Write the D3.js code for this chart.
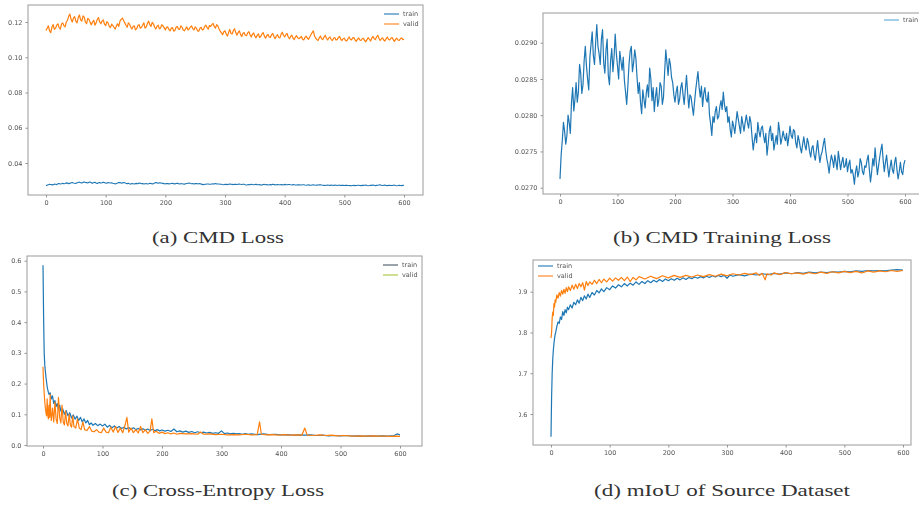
<!DOCTYPE html>
<html>
<head>
<meta charset="utf-8">
<script src="https://cdn.jsdelivr.net/npm/d3@7"></script>
<style>
  html, body { margin: 0; padding: 0; background: #fff; }
  svg { display: block; }
  .cap { font-family: "Liberation Serif", "Times New Roman", serif; font-size: 16px; }
  .tk { font-family: "DejaVu Sans", sans-serif; font-size: 6.5px; }
</style>
</head>
<body>
<svg id="fig" width="919" height="506"></svg>
<script>
// ---- data ----------------------------------------------------------
// CMD training loss, sampled every 2 epochs (0..600)
const cmdTrain = [
  0.02712,0.02745,0.02765,0.02790,0.02778,0.02760,0.02772,0.02800,0.02790,0.02775,
  0.02818,0.02838,0.02806,0.02822,0.02845,0.02818,0.02832,0.02870,0.02858,0.02830,
  0.02842,0.02875,0.02895,0.02868,0.02850,0.02835,0.02880,0.02898,0.02915,0.02882,
  0.02870,0.02900,0.02925,0.02895,0.02885,0.02870,0.02905,0.02918,0.02872,0.02858,
  0.02890,0.02905,0.02855,0.02842,0.02875,0.02892,0.02860,0.02880,0.02912,0.02885,
  0.02868,0.02850,0.02888,0.02875,0.02862,0.02880,0.02848,0.02832,0.02815,0.02840,
  0.02870,0.02888,0.02895,0.02860,0.02872,0.02890,0.02878,0.02852,0.02830,0.02845,
  0.02818,0.02802,0.02835,0.02822,0.02810,0.02830,0.02842,0.02825,0.02865,0.02850,
  0.02820,0.02838,0.02805,0.02825,0.02838,0.02812,0.02822,0.02845,0.02840,0.02815,
  0.02825,0.02860,0.02890,0.02872,0.02855,0.02878,0.02870,0.02852,0.02845,0.02828,
  0.02818,0.02832,0.02840,0.02815,0.02822,0.02838,0.02845,0.02828,0.02815,0.02835,
  0.02855,0.02830,0.02810,0.02828,0.02825,0.02812,0.02800,0.02818,0.02835,0.02848,
  0.02860,0.02838,0.02825,0.02840,0.02812,0.02830,0.02838,0.02822,0.02818,0.02832,
  0.02800,0.02788,0.02772,0.02798,0.02790,0.02805,0.02812,0.02795,0.02798,0.02812,
  0.02820,0.02808,0.02832,0.02815,0.02805,0.02812,0.02790,0.02798,0.02780,0.02770,
  0.02792,0.02785,0.02775,0.02790,0.02805,0.02795,0.02785,0.02775,0.02798,0.02788,
  0.02778,0.02790,0.02800,0.02790,0.02782,0.02798,0.02790,0.02770,0.02752,0.02765,
  0.02775,0.02762,0.02790,0.02778,0.02770,0.02782,0.02785,0.02772,0.02762,0.02775,
  0.02745,0.02760,0.02778,0.02785,0.02765,0.02775,0.02752,0.02762,0.02772,0.02760,
  0.02790,0.02778,0.02760,0.02768,0.02778,0.02770,0.02765,0.02775,0.02758,0.02770,
  0.02785,0.02772,0.02768,0.02780,0.02778,0.02762,0.02755,0.02772,0.02765,0.02755,
  0.02748,0.02760,0.02770,0.02758,0.02752,0.02768,0.02762,0.02750,0.02742,0.02755,
  0.02758,0.02745,0.02738,0.02752,0.02765,0.02748,0.02735,0.02745,0.02750,0.02760,
  0.02768,0.02752,0.02740,0.02732,0.02720,0.02735,0.02745,0.02738,0.02728,0.02745,
  0.02735,0.02725,0.02750,0.02738,0.02725,0.02735,0.02742,0.02728,0.02730,0.02740,
  0.02722,0.02732,0.02738,0.02720,0.02725,0.02718,0.02705,0.02722,0.02730,0.02715,
  0.02722,0.02740,0.02735,0.02722,0.02718,0.02730,0.02728,0.02738,0.02745,0.02725,
  0.02708,0.02722,0.02740,0.02730,0.02755,0.02735,0.02718,0.02730,0.02742,0.02752,
  0.02760,0.02738,0.02722,0.02735,0.02745,0.02728,0.02715,0.02728,0.02738,0.02725,
  0.02720,0.02735,0.02742,0.02725,0.02712,0.02722,0.02735,0.02722,0.02718,0.02732,
  0.02738
];

// CMD validation loss, sampled every 2 epochs (0..600)
const cmdValid = [
  0.1152,0.1165,0.1178,0.1150,0.1140,0.1172,0.1185,0.1158,0.1165,0.1182,
  0.1190,0.1168,0.1160,0.1188,0.1195,0.1180,0.1172,0.1200,0.1210,0.1232,
  0.1245,0.1215,0.1200,0.1222,0.1230,0.1205,0.1195,0.1225,0.1240,0.1212,
  0.1205,0.1235,0.1228,0.1200,0.1190,0.1220,0.1215,0.1198,0.1185,0.1200,
  0.1210,0.1182,0.1195,0.1215,0.1225,0.1200,0.1190,0.1205,0.1212,0.1188,
  0.1180,0.1202,0.1195,0.1175,0.1168,0.1188,0.1180,0.1170,0.1160,0.1178,
  0.1190,0.1175,0.1205,0.1215,0.1222,0.1208,0.1195,0.1182,0.1170,0.1195,
  0.1188,0.1172,0.1160,0.1175,0.1178,0.1155,0.1162,0.1180,0.1185,0.1165,
  0.1170,0.1182,0.1195,0.1165,0.1172,0.1192,0.1205,0.1185,0.1175,0.1198,
  0.1190,0.1172,0.1160,0.1175,0.1182,0.1162,0.1165,0.1185,0.1178,0.1168,
  0.1155,0.1170,0.1172,0.1158,0.1150,0.1165,0.1168,0.1148,0.1152,0.1170,
  0.1175,0.1160,0.1158,0.1178,0.1170,0.1155,0.1150,0.1162,0.1172,0.1155,
  0.1160,0.1172,0.1178,0.1162,0.1155,0.1172,0.1165,0.1150,0.1148,0.1165,
  0.1170,0.1155,0.1158,0.1175,0.1182,0.1168,0.1160,0.1180,0.1175,0.1185,
  0.1192,0.1175,0.1165,0.1185,0.1178,0.1160,0.1148,0.1138,0.1128,0.1145,
  0.1150,0.1132,0.1120,0.1140,0.1158,0.1135,0.1132,0.1150,0.1162,0.1140,
  0.1125,0.1140,0.1150,0.1130,0.1118,0.1135,0.1140,0.1125,0.1122,0.1138,
  0.1145,0.1128,0.1115,0.1130,0.1138,0.1120,0.1110,0.1125,0.1132,0.1112,
  0.1118,0.1132,0.1140,0.1120,0.1108,0.1122,0.1130,0.1115,0.1112,0.1128,
  0.1135,0.1118,0.1105,0.1120,0.1128,0.1112,0.1110,0.1130,0.1142,0.1125,
  0.1115,0.1128,0.1135,0.1115,0.1105,0.1118,0.1125,0.1108,0.1100,0.1115,
  0.1122,0.1110,0.1105,0.1112,0.1118,0.1102,0.1098,0.1112,0.1120,0.1108,
  0.1102,0.1115,0.1128,0.1140,0.1150,0.1122,0.1108,0.1100,0.1095,0.1110,
  0.1120,0.1105,0.1100,0.1115,0.1125,0.1108,0.1098,0.1110,0.1115,0.1100,
  0.1095,0.1108,0.1112,0.1098,0.1100,0.1112,0.1118,0.1102,0.1095,0.1105,
  0.1108,0.1095,0.1092,0.1105,0.1115,0.1102,0.1098,0.1110,0.1112,0.1098,
  0.1090,0.1102,0.1110,0.1098,0.1095,0.1105,0.1108,0.1095,0.1088,0.1100,
  0.1112,0.1102,0.1092,0.1108,0.1118,0.1105,0.1100,0.1115,0.1125,0.1108,
  0.1095,0.1105,0.1110,0.1098,0.1092,0.1105,0.1115,0.1102,0.1098,0.1108,
  0.1112,0.1100,0.1090,0.1102,0.1108,0.1098,0.1095,0.1105,0.1110,0.1100,
  0.1102
];

// Cross-entropy loss, [epoch, value]
const ceTrain = [
  [0,0.585],[1,0.42],[2,0.30],[3,0.26],[4,0.24],[5,0.22],[6,0.205],[7,0.19],[8,0.18],[9,0.172],
  [10,0.165],[12,0.17],[14,0.15],[16,0.16],[18,0.135],[20,0.145],[22,0.125],[24,0.135],[26,0.115],[28,0.13],
  [30,0.11],[33,0.118],[36,0.10],[39,0.112],[42,0.095],[45,0.105],[48,0.088],[51,0.098],[54,0.084],[57,0.094],
  [60,0.08],[63,0.09],[66,0.075],[69,0.085],[72,0.072],[75,0.08],[78,0.066],[81,0.072],[84,0.064],[88,0.07],
  [92,0.063],[96,0.068],[100,0.062],[104,0.068],[108,0.058],[112,0.064],[116,0.056],[120,0.062],[124,0.055],[128,0.06],
  [132,0.054],[136,0.058],[140,0.052],[144,0.057],[148,0.051],[152,0.056],[156,0.05],[160,0.054],[164,0.049],[168,0.053],
  [172,0.048],[176,0.052],[180,0.047],[184,0.051],[188,0.046],[192,0.05],[196,0.046],[200,0.049],[205,0.045],[210,0.048],
  [215,0.044],[220,0.052],[225,0.043],[230,0.046],[235,0.042],[240,0.045],[245,0.041],[250,0.044],[255,0.04],[260,0.043],
  [265,0.04],[270,0.042],[275,0.039],[280,0.041],[285,0.038],[290,0.04],[295,0.038],[300,0.046],[305,0.037],[310,0.039],
  [315,0.036],[320,0.038],[325,0.036],[330,0.037],[335,0.035],[340,0.037],[345,0.035],[350,0.036],[360,0.034],[370,0.036],
  [380,0.034],[390,0.035],[400,0.033],[410,0.034],[420,0.032],[430,0.033],[440,0.032],[450,0.033],[460,0.031],[470,0.032],
  [480,0.03],[490,0.031],[500,0.03],[510,0.031],[520,0.029],[530,0.03],[540,0.029],[550,0.03],[560,0.029],[570,0.03],
  [580,0.029],[590,0.031],[595,0.036],[600,0.033]
];
const ceValid = [
  [0,0.255],[1,0.20],[2,0.17],[3,0.14],[4,0.12],[5,0.105],[6,0.095],[7,0.15],[8,0.10],[9,0.085],
  [10,0.13],[11,0.09],[12,0.165],[13,0.10],[14,0.08],[16,0.12],[18,0.075],[20,0.14],[22,0.085],[24,0.07],
  [26,0.155],[28,0.09],[30,0.072],[32,0.13],[34,0.075],[36,0.065],[38,0.11],[40,0.07],[42,0.062],[44,0.10],
  [46,0.065],[48,0.058],[50,0.095],[52,0.06],[55,0.055],[58,0.085],[61,0.055],[64,0.05],[67,0.075],[70,0.05],
  [74,0.047],[78,0.06],[82,0.045],[86,0.043],[90,0.05],[94,0.042],[98,0.04],[102,0.055],[106,0.042],[110,0.04],
  [114,0.058],[118,0.042],[122,0.06],[126,0.041],[130,0.055],[134,0.04],[138,0.065],[141,0.09],[144,0.042],[148,0.055],
  [152,0.04],[156,0.05],[160,0.039],[164,0.06],[168,0.04],[172,0.05],[176,0.038],[180,0.045],[183,0.085],[186,0.04],
  [190,0.045],[195,0.038],[200,0.042],[205,0.037],[210,0.04],[215,0.036],[220,0.039],[225,0.035],[230,0.038],[240,0.036],
  [250,0.037],[260,0.035],[265,0.042],[270,0.035],[280,0.036],[290,0.034],[300,0.035],[310,0.033],[320,0.034],[330,0.033],
  [340,0.035],[350,0.033],[360,0.034],[364,0.075],[367,0.035],[375,0.033],[385,0.034],[395,0.032],[405,0.034],[415,0.032],
  [425,0.033],[435,0.032],[440,0.055],[444,0.032],[455,0.031],[465,0.033],[475,0.031],[485,0.032],[495,0.03],[505,0.031],
  [515,0.03],[525,0.029],[535,0.03],[545,0.029],[555,0.03],[565,0.029],[575,0.029],[585,0.028],[595,0.029],[600,0.028]
];

// mIoU on the source dataset, [epoch, value]
const miouTrain = [
  [0,0.544],[1,0.64],[2,0.70],[3,0.735],[4,0.757],[5,0.772],[6,0.785],[7,0.795],[8,0.80],[10,0.815],
  [12,0.826],[14,0.822],[16,0.838],[18,0.832],[20,0.851],[22,0.842],[24,0.856],[26,0.848],[28,0.862],[30,0.856],
  [33,0.868],[36,0.86],[39,0.874],[42,0.868],[45,0.88],[48,0.872],[51,0.886],[54,0.878],[57,0.89],[60,0.882],
  [63,0.894],[66,0.886],[70,0.898],[74,0.892],[78,0.903],[82,0.897],[86,0.907],[90,0.90],[95,0.91],[100,0.905],
  [105,0.914],[110,0.909],[115,0.917],[120,0.912],[125,0.92],[130,0.914],[135,0.921],[140,0.916],[145,0.924],[150,0.918],
  [155,0.925],[160,0.92],[165,0.927],[170,0.922],[175,0.928],[180,0.924],[185,0.93],[190,0.925],[195,0.931],[200,0.927],
  [205,0.932],[210,0.928],[215,0.933],[220,0.929],[225,0.934],[230,0.93],[235,0.935],[240,0.932],[245,0.936],[250,0.933],
  [255,0.937],[260,0.934],[265,0.938],[270,0.935],[275,0.939],[280,0.936],[285,0.94],[290,0.937],[295,0.94],[300,0.933],
  [305,0.941],[310,0.938],[320,0.942],[330,0.939],[340,0.943],[350,0.941],[360,0.944],[370,0.942],[380,0.945],[390,0.943],
  [400,0.946],[410,0.944],[420,0.947],[430,0.945],[440,0.948],[450,0.946],[460,0.948],[470,0.947],[480,0.949],[490,0.948],
  [500,0.95],[510,0.949],[520,0.951],[530,0.95],[540,0.952],[550,0.951],[560,0.952],[570,0.951],[580,0.953],[590,0.954],
  [600,0.953]
];
const miouValid = [
  [0,0.786],[1,0.80],[2,0.835],[3,0.85],[4,0.842],[5,0.871],[6,0.862],[7,0.88],[8,0.874],[10,0.892],
  [12,0.884],[14,0.898],[16,0.889],[18,0.903],[20,0.894],[22,0.906],[24,0.896],[26,0.91],[28,0.90],[30,0.912],
  [33,0.903],[36,0.916],[39,0.906],[42,0.918],[45,0.908],[48,0.92],[51,0.912],[54,0.922],[57,0.904],[60,0.925],
  [63,0.915],[66,0.924],[70,0.918],[74,0.928],[78,0.92],[82,0.93],[86,0.922],[90,0.931],[95,0.924],[100,0.933],
  [105,0.926],[110,0.934],[115,0.928],[120,0.935],[125,0.927],[130,0.936],[135,0.925],[140,0.935],[145,0.929],[150,0.937],
  [160,0.931],[170,0.938],[180,0.932],[190,0.939],[200,0.934],[210,0.94],[220,0.935],[230,0.94],[240,0.936],[250,0.941],
  [260,0.937],[270,0.942],[280,0.938],[290,0.943],[300,0.939],[310,0.944],[320,0.941],[330,0.945],[340,0.942],[350,0.946],
  [355,0.94],[360,0.945],[365,0.929],[368,0.944],[375,0.941],[380,0.946],[390,0.942],[400,0.947],[410,0.944],[420,0.946],
  [430,0.943],[440,0.947],[450,0.944],[460,0.948],[470,0.945],[480,0.949],[490,0.946],[500,0.95],[510,0.947],[520,0.95],
  [530,0.946],[540,0.951],[550,0.948],[560,0.951],[570,0.949],[580,0.952],[590,0.95],[600,0.952]
];

// tick labels
const xTicks = [0, 100, 200, 300, 400, 500, 600];
const yTicksA = [0.04, 0.06, 0.08, 0.10, 0.12];
const yTicksB = [0.0270, 0.0275, 0.0280, 0.0285, 0.0290];
const yTicksC = [0.0, 0.1, 0.2, 0.3, 0.4, 0.5, 0.6];
const yTicksD = [0.6, 0.7, 0.8, 0.9];

const captions = ["(a) CMD Loss", "(b) CMD Training Loss", "(c) Cross-Entropy Loss", "(d) mIoU of Source Dataset"];
const seriesNames = ["train", "valid"];

// ---- drawing -------------------------------------------------------
const BLUE = "#1f77b4", ORANGE = "#ff7f0e";
const svg = d3.select("#fig");

// soft rendering of the plot panels
svg.append("defs").append("filter").attr("id", "soft")
  .append("feGaussianBlur").attr("stdDeviation", 0.35);

// every-2-epoch series become [epoch, value]
const step2 = arr => arr.map((v, i) => [i * 2, v]);

function panel(cfg) {
  const outer = svg.append("g");
  if (cfg.clipLeft !== undefined) {
    const id = "clip" + cfg.id;
    svg.append("clipPath").attr("id", id).append("rect")
      .attr("x", cfg.clipLeft).attr("y", 0).attr("width", 919).attr("height", 506);
    outer.attr("clip-path", `url(#${id})`);
  }
  const g = outer.append("g").attr("filter", "url(#soft)");
  const f = cfg.frame;
  const x = d3.scaleLinear().domain([0, 600]).range(cfg.xr);
  const y = d3.scaleLinear().domain(cfg.yd).range(cfg.yr);

  const line = d3.line().x(d => x(d[0])).y(d => y(d[1]));
  svg.append("clipPath").attr("id", "pc" + cfg.id).append("rect")
    .attr("x", f.l).attr("y", f.t).attr("width", f.r - f.l).attr("height", f.b - f.t);
  const plot = g.append("g").attr("clip-path", `url(#pc${cfg.id})`);
  cfg.series.forEach(s => {
    plot.append("path").datum(s.data).attr("d", line)
      .attr("fill", "none").attr("stroke", s.color).attr("stroke-width", s.width || 1.2)
      .attr("stroke-linejoin", "round");
  });

  // axes
  const ax = d3.axisBottom(x).tickValues(xTicks).tickSize(2.5).tickPadding(3).tickFormat(d3.format("d"));
  const ay = d3.axisLeft(y).tickValues(cfg.yTicks).tickSize(2.5).tickPadding(3).tickFormat(d3.format(cfg.fmt));
  const gx = g.append("g").attr("transform", `translate(0,${f.b})`).call(ax);
  const gy = g.append("g").attr("transform", `translate(${f.l},0)`).call(ay);
  [gx, gy].forEach(a => {
    a.attr("font-family", null).attr("font-size", null);
    a.select(".domain").remove();
    a.selectAll("line").attr("stroke", "#666").attr("stroke-width", 0.7);
    a.selectAll("text").attr("class", "tk").attr("fill", "#555");
  });

  g.append("rect").attr("x", f.l).attr("y", f.t).attr("width", f.r - f.l).attr("height", f.b - f.t)
    .attr("fill", "none").attr("stroke", "#9a9a9a").attr("stroke-width", 1);

  // legend
  const lg = g.append("g").attr("transform", `translate(${cfg.legend[0]},${cfg.legend[1]})`);
  cfg.legendItems.forEach((it, i) => {
    lg.append("line").attr("x1", 0).attr("x2", 15).attr("y1", i * 10).attr("y2", i * 10)
      .attr("stroke", it.color).attr("stroke-width", 1.1);
    lg.append("text").attr("class", "tk").attr("x", 19).attr("y", i * 10 + 2.3).text(it.name)
      .attr("fill", "#555");
  });
}

// (a)
panel({
  id: "a", frame: { l: 28, t: 5, r: 423, b: 195 },
  xr: [46, 404], yd: [0.04, 0.12], yr: [163, 22],
  yTicks: yTicksA, fmt: ".2f",
  series: [
    { data: step2(cmdTrain), color: BLUE, width: 1.1 },
    { data: step2(cmdValid), color: ORANGE, width: 1.2 }
  ],
  legend: [384, 14],
  legendItems: [{ name: seriesNames[0], color: BLUE }, { name: seriesNames[1], color: ORANGE }]
});

// (b)
panel({
  id: "b", frame: { l: 543, t: 13, r: 922, b: 194 },
  xr: [560, 905], yd: [0.0270, 0.0290], yr: [187.7, 42.7],
  yTicks: yTicksB, fmt: ".4f",
  series: [{ data: step2(cmdTrain), color: BLUE, width: 1.2 }],
  legend: [884, 20],
  legendItems: [{ name: seriesNames[0], color: "#5aa8d8" }]
});

// (c)
panel({
  id: "c", frame: { l: 27, t: 256, r: 422, b: 446 },
  xr: [43, 400], yd: [0.0, 0.6], yr: [445, 260.7],
  yTicks: yTicksC, fmt: ".1f",
  series: [
    { data: ceTrain, color: BLUE },
    { data: ceValid, color: ORANGE }
  ],
  legend: [383, 265],
  legendItems: [{ name: seriesNames[0], color: "#4a5866" }, { name: seriesNames[1], color: "#a6c43a" }]
});

// (d)
panel({
  id: "d", frame: { l: 533, t: 260, r: 911, b: 445 },
  xr: [551, 903], yd: [0.6, 0.9], yr: [414, 291.7],
  yTicks: yTicksD, fmt: ".1f", clipLeft: 519,
  series: [
    { data: miouTrain, color: BLUE },
    { data: miouValid, color: ORANGE }
  ],
  legend: [538, 266],
  legendItems: [{ name: seriesNames[0], color: BLUE }, { name: seriesNames[1], color: ORANGE }]
});

// sub-figure captions
const capPos = [[218, 243, 132], [722, 243, 218], [218, 496, 212], [722, 496, 256]];
svg.selectAll("text.cap").data(captions).enter().append("text")
  .attr("class", "cap")
  .attr("x", (d, i) => capPos[i][0] - capPos[i][2] / 2)
  .attr("y", (d, i) => capPos[i][1])
  .attr("textLength", (d, i) => capPos[i][2])
  .attr("lengthAdjust", "spacingAndGlyphs")
  .attr("fill", "#333")
  .text(d => d);
</script>
</body>
</html>
